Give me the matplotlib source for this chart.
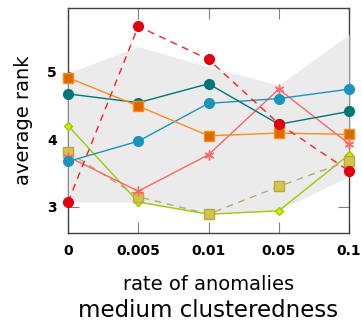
import numpy as np
import matplotlib.pyplot as plt

x_labels = ['0', '0.005', '0.01', '0.05', '0.1']
x = np.arange(len(x_labels))

band_top = [4.98, 5.37, 5.07, 4.80, 5.55]
band_bottom = [3.07, 3.07, 2.90, 2.95, 3.45]

red = [3.07, 5.67, 5.18, 4.23, 3.53]
orange = [4.91, 4.49, 4.05, 4.09, 4.07]
teal = [4.67, 4.54, 4.82, 4.22, 4.41]
blue = [3.67, 3.97, 4.53, 4.60, 4.74]
pink = [3.74, 3.23, 3.77, 4.74, 3.93]
green = [4.20, 3.07, 2.89, 2.94, 3.77]
olive = [3.81, 3.15, 2.89, 3.30, 3.68]

fig = plt.figure(figsize=(3.62, 3.22), dpi=100)
ax = fig.add_axes([0.188, 0.276, 0.776, 0.699])

ax.fill_between(x, band_bottom, band_top, color='#ebebeb', lw=0, zorder=3)

kw = dict(clip_on=False, zorder=5)
ax.plot(x, green, '-', color='#99cc00', lw=1, marker='D', ms=4.5, mfc='#ccee00', mec='#99cc00', **kw)
ax.plot(x, olive, '--', color='#b8a870', lw=1, dashes=(5, 4), marker='s', ms=7, mfc='#d4c447', mec='#b8a848', **kw)
ax.plot(x, pink, '-', color='#ff6666', lw=1, marker=(6, 2, 0), ms=7, mew=1, **kw)
ax.plot(x, blue, '-', color='#1a94bd', lw=1, marker='o', ms=7, mfc='#1a94bd', mec='#1a94bd', **kw)
ax.plot(x, teal, '-', color='#007575', lw=1, marker='o', ms=7, mfc='#007575', mec='#007575', **kw)
ax.plot(x, orange, '-', color='#ff8c1a', lw=1, marker='s', ms=7, mfc='#d96a00', mec='#ff8c1a', **kw)
ax.plot(x, red, '--', color='#ff2020', lw=1, dashes=(5, 4), marker='o', ms=7, mfc='#e00010', mec='#e00010', **kw)

ax.set_xlim(0, 4)
ax.set_ylim(2.61, 5.94)
ax.set_xticks(x)
ax.set_xticklabels(x_labels, fontweight='bold', fontsize=10)
ax.set_yticks([3, 4, 5])
ax.set_yticklabels(['3', '4', '5'], fontweight='bold', fontsize=10)
ax.tick_params(direction='in', length=8, color='#808080', top=True, right=True, pad=8)
for s in ax.spines.values():
    s.set_color('#404040')
    s.set_linewidth(1)

ax.set_ylabel('average rank', fontsize=14, labelpad=10)
ax.set_xlabel('rate of anomalies', fontsize=14, labelpad=12)
fig.text(0.576, 0.015, 'medium clusteredness', fontsize=16.5, ha='center')

fig.savefig('out.png', dpi=100)
